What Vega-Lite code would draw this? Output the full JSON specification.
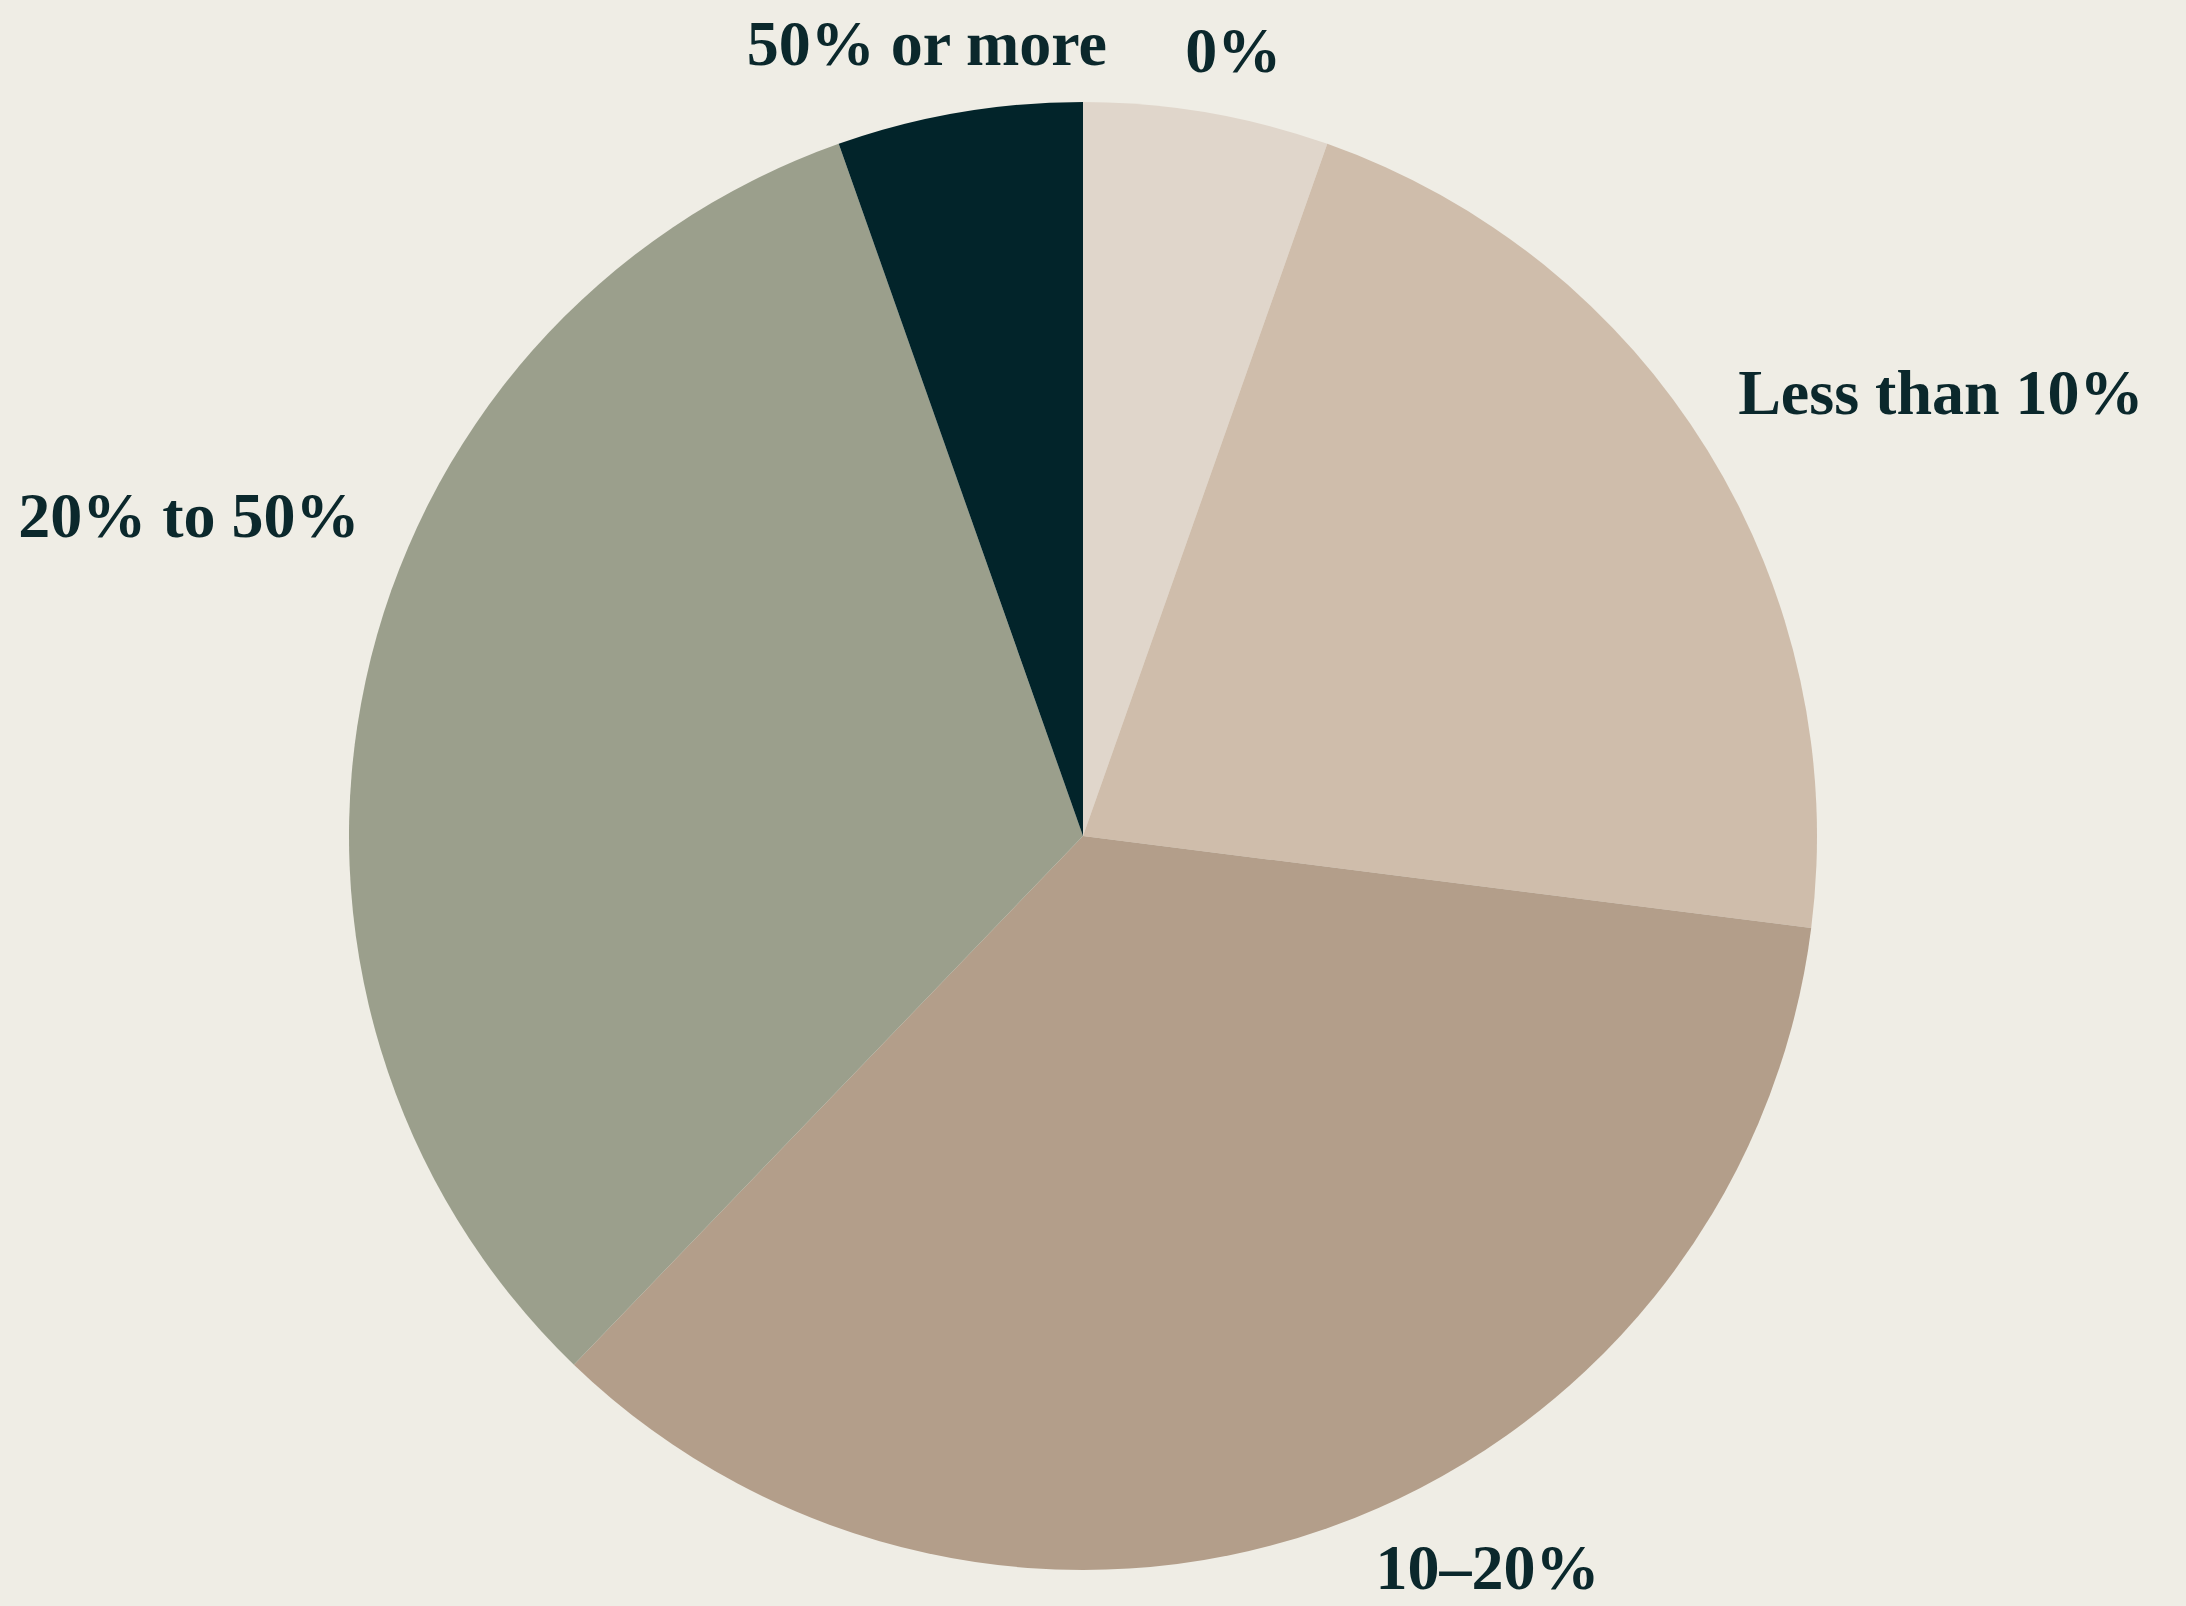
{
  "$schema": "https://vega.github.io/schema/vega-lite/v6.json",
  "width": 2000,
  "height": 1500,
  "autosize": {"type": "none"},
  "padding": {"left": 83, "top": 86, "right": 103, "bottom": 20},
  "background": "#efede5",
  "config": {"view": {"stroke": null}},
  "data": {
    "values": [
      {"category": "0%", "share": 5.4, "order": 1},
      {"category": "Less than 10%", "share": 21.6, "order": 2},
      {"category": "10–20%", "share": 35.2, "order": 3},
      {"category": "20% to 50%", "share": 32.4, "order": 4},
      {"category": "50% or more", "share": 5.4, "order": 5}
    ]
  },
  "encoding": {
    "theta": {"field": "share", "type": "quantitative", "stack": true},
    "order": {"field": "order", "type": "quantitative"}
  },
  "layer": [
    {
      "mark": {"type": "arc", "outerRadius": 734, "stroke": null},
      "encoding": {
        "color": {
          "field": "category",
          "type": "nominal",
          "scale": {
            "domain": ["0%", "Less than 10%", "10–20%", "20% to 50%", "50% or more"],
            "range": ["#e0d6cb", "#cfbdab", "#b39e8a", "#9b9f8c", "#02242a"]
          },
          "legend": null
        }
      }
    },
    {
      "mark": {
        "type": "text",
        "radius": 790,
        "thetaOffset": {"expr": "datum.order <= 3 ? -0.04 : 0.2"},
        "align": {"expr": "datum.order <= 3 ? 'left' : 'right'"},
        "baseline": "middle",
        "font": "Liberation Serif",
        "fontWeight": "bold",
        "fontSize": 64,
        "color": "#0b282c"
      },
      "encoding": {"text": {"field": "category"}}
    }
  ]
}
